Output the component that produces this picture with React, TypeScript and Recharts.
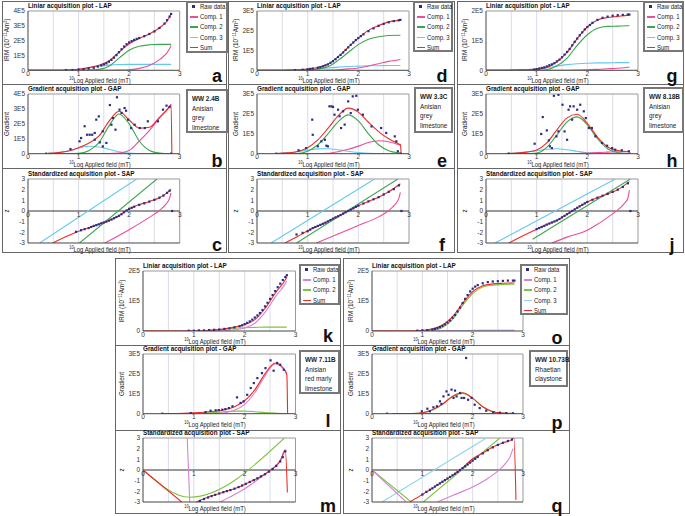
import React from 'react';
import { ComposedChart, Line, Scatter, XAxis, YAxis, ReferenceLine, ReferenceDot } from 'recharts';

type Pair = [number, number | null];
type Pt = { x: number; y: number | null };

const FONT = "'Liberation Sans',Arial,sans-serif";
const NARROW = 0.84;

const RAW_COLOR = '#2b2d84';
const TOP_PAL = { c1: '#ea4f9b', c2: '#3da54e', c3: '#63c9ef', sum: '#ee2b25' };
const BOT_PAL = { c1: '#d584d2', c2: '#80c342', c3: '#8dd3ee', sum: '#ee2b25' };

// ---------- axes / grids ----------
const LAP_X = [0, 0.4, 0.6, 0.8, 1.0, 1.2, 1.4, 1.6, 1.8, 2.0, 2.2, 2.4, 2.6, 2.8, 2.83];
const GAP_X = [0.4, 0.6, 0.8, 1.0, 1.2, 1.4, 1.6, 1.8, 2.0, 2.2, 2.4, 2.6, 2.8, 2.83];
const GAP_X_END = [0.4, 0.6, 0.8, 1.0, 1.2, 1.4, 1.6, 1.8, 2.0, 2.2, 2.4, 2.6, 2.8, 2.83, 2.845];
const X_TICKS = [0, 1, 2, 3];
const X_GRID = [0.5, 1, 1.5, 2, 2.5];
const Z_TICKS = [-3, -2, -1, 0, 1, 2, 3];
const Y4 = [0, 1, 2, 3, 4];
const Y3 = [0, 1, 2, 3];
const Y2 = [0, 1, 2];

const TITLES = ['Liniar acquisition plot - LAP', 'Gradient acquisition plot - GAP', 'Standardized acquisition plot - SAP'];
const Y_LABELS = ['IRM (10\u207B\u00B9\u00B9Am\u00B2)', 'Gradient', 'z'];
const X_LABEL = 'Log Applied field (mT)';
const LEGEND_LABELS: Record<string, string> = { raw: 'Raw data', c1: 'Comp. 1', c2: 'Comp. 2', c3: 'Comp. 3', sum: 'Sum' };

const INFO_A = ['WW 2.4B', 'Anisian', 'grey', 'limestone'];
const INFO_D = ['WW 3.3C', 'Anisian', 'grey', 'limestone'];
const INFO_G = ['WW 8.18B', 'Anisian', 'grey', 'limestone'];
const INFO_K = ['WW 7.11B', 'Anisian', 'red marly', 'limestone'];
const INFO_O = ['WW 10.73B', 'Rhaetian', 'claystone'];

// ---------- sample a (WW 2.4B) ----------
const LAP_A_C1 = [0, 0, 0, 0, 0, 0, 0, 0, 0.01, 0.04, 0.13, 0.33, 0.72, 1.45, 1.68];
const LAP_A_C2 = [0, 0, 0, 0, 0, 0.01, 0.06, 0.28, 0.82, 1.35, 1.62, 1.72, 1.75, 1.75, 1.75];
const LAP_A_C3 = [0, 0, 0, 0.02, 0.07, 0.17, 0.28, 0.35, 0.39, 0.4, 0.4, 0.4, 0.4, 0.4, 0.4];
const LAP_A_SUM = [0, 0, 0, 0.02, 0.07, 0.18, 0.34, 0.63, 1.22, 1.79, 2.15, 2.45, 2.87, 3.6, 3.83];
const LAP_A_RAW: Pair[] = [[0.75, 0.01], [0.88, 0.02], [1.0, 0.05], [1.1, 0.08], [1.2, 0.12], [1.3, 0.17], [1.38, 0.25], [1.45, 0.33], [1.5, 0.4], [1.55, 0.47], [1.6, 0.58], [1.65, 0.7], [1.7, 0.85], [1.75, 1.02], [1.8, 1.22], [1.85, 1.42], [1.9, 1.6], [1.95, 1.76], [2.0, 1.88], [2.05, 1.97], [2.1, 2.05], [2.15, 2.12], [2.2, 2.18], [2.3, 2.3], [2.4, 2.45], [2.5, 2.62], [2.6, 2.85], [2.7, 3.15], [2.75, 3.38], [2.8, 3.62], [2.83, 3.8]];
const GAP_A_C1 = [0, 0, 0, 0, 0, 0, 0.01, 0.05, 0.22, 0.85, 1.55, 2.4, 3.15, 3.3];
const GAP_A_C2 = [0, 0, 0, 0.02, 0.2, 0.72, 1.85, 2.66, 2.0, 0.85, 0.22, 0.04, 0, 0];
const GAP_A_C3 = [0.02, 0.07, 0.18, 0.38, 0.5, 0.45, 0.3, 0.13, 0.04, 0.01, 0, 0, 0, 0];
const GAP_A_SUM = [0.02, 0.07, 0.18, 0.4, 0.7, 1.17, 2.16, 2.84, 2.26, 1.71, 1.77, 2.44, 3.15, 3.3, 0];
const GAP_A_RAW: Pair[] = [[0.36, 0], [0.84, 0.31], [1.02, 0.83], [1.05, 1.05], [1.12, 1.84], [1.17, 1.27], [1.22, 1.27], [1.27, 1.27], [1.32, 1.39], [1.35, 2.28], [1.4, 2.5], [1.32, 0.94], [1.42, 0.76], [1.48, 0.49], [1.48, 1.5], [1.55, 0.72], [1.62, 3.26], [1.65, 1.94], [1.68, 2.39], [1.73, 1.61], [1.76, 3.78], [1.81, 2.95], [1.85, 2.73], [1.91, 3.06], [1.94, 2.88], [1.98, 2.28], [2.04, 1.72], [2.11, 1.94], [2.21, 1.72], [2.31, 1.72], [2.37, 2.17], [2.57, 2.17], [2.67, 2.95], [2.74, 3.22], [2.8, 3.13], [2.83, 0]];
const SAP_A_C1: Pair[] = [[1.52, -3], [2.0, -1.75], [2.4, -0.6], [2.6, 0.05], [2.72, 0.6], [2.8, 1.2], [2.83, 1.7]];
const SAP_A_C2: Pair[] = [[1.02, -3], [2.55, 3]];
const SAP_A_C3: Pair[] = [[0.23, -3], [2.15, 3]];
const SAP_A_SUM: Pair[] = [[0.49, -3], [0.8, -2.3], [1.0, -1.9], [1.3, -1.4], [1.6, -0.9], [1.8, -0.45], [1.9, -0.1], [2.0, 0.22], [2.2, 0.6], [2.4, 0.9], [2.6, 1.25], [2.75, 1.7], [2.83, 2.05]];
const SAP_A_RAW: Pair[] = [[0.95, -1.95], [1.05, -1.8], [1.12, -1.7], [1.2, -1.6], [1.25, -1.5], [1.3, -1.4], [1.35, -1.33], [1.4, -1.25], [1.45, -1.15], [1.5, -1.08], [1.55, -1.0], [1.6, -0.9], [1.65, -0.8], [1.7, -0.68], [1.75, -0.56], [1.8, -0.45], [1.85, -0.3], [1.9, -0.12], [1.95, 0.05], [2.0, 0.2], [2.05, 0.3], [2.1, 0.4], [2.2, 0.57], [2.3, 0.72], [2.4, 0.88], [2.5, 1.05], [2.6, 1.25], [2.68, 1.45], [2.75, 1.7], [2.8, 1.9], [2.85, 0]];

// ---------- sample d (WW 3.3C) ----------
const LAP_D_C1 = [0, 0, 0, 0, 0, 0, 0.01, 0.03, 0.07, 0.12, 0.22, 0.33, 0.45, 0.53, 0.55];
const LAP_D_C2 = [0, 0, 0, 0, 0.01, 0.06, 0.18, 0.5, 0.9, 1.3, 1.57, 1.7, 1.76, 1.77, 1.77];
const LAP_D_C3 = [0, 0, 0.01, 0.02, 0.05, 0.08, 0.12, 0.16, 0.19, 0.21, 0.23, 0.23, 0.24, 0.24, 0.24];
const LAP_D_SUM = [0, 0, 0.01, 0.02, 0.06, 0.14, 0.31, 0.69, 1.16, 1.63, 2.02, 2.26, 2.45, 2.54, 2.56];
const LAP_D_RAW: Pair[] = [[0.75, 0.01], [0.9, 0.03], [1.0, 0.05], [1.05, 0.07], [1.1, 0.09], [1.2, 0.13], [1.25, 0.16], [1.3, 0.2], [1.35, 0.25], [1.4, 0.3], [1.45, 0.38], [1.5, 0.46], [1.55, 0.56], [1.6, 0.67], [1.65, 0.78], [1.7, 0.9], [1.75, 1.03], [1.8, 1.16], [1.85, 1.29], [1.9, 1.41], [1.95, 1.53], [2.0, 1.63], [2.05, 1.73], [2.1, 1.82], [2.2, 1.98], [2.3, 2.12], [2.4, 2.25], [2.5, 2.35], [2.6, 2.43], [2.7, 2.49], [2.8, 2.53], [2.83, 2.55]];
const GAP_D_C1 = [0, 0, 0, 0, 0, 0.02, 0.1, 0.22, 0.38, 0.56, 0.65, 0.6, 0.45, 0.42];
const GAP_D_C2 = [0, 0, 0.01, 0.12, 0.45, 1.0, 1.6, 1.95, 1.65, 1.0, 0.45, 0.15, 0.04, 0.03];
const GAP_D_C3 = [0.01, 0.04, 0.1, 0.18, 0.24, 0.25, 0.2, 0.12, 0.06, 0.02, 0.01, 0, 0, 0];
const GAP_D_SUM = [0.01, 0.04, 0.11, 0.3, 0.69, 1.27, 1.9, 2.29, 2.09, 1.58, 1.11, 0.75, 0.49, 0.45, 0];
const GAP_D_RAW: Pair[] = [[0.38, 0], [0.82, 0.17], [0.97, 0.28], [1.1, 0.95], [1.09, 1.71], [1.2, 0.37], [1.27, 0.62], [1.34, 0.7], [1.37, 0.4], [1.4, 0.37], [1.43, 2.38], [1.47, 2.38], [1.5, 2.35], [1.53, 1.96], [1.6, 2.21], [1.63, 1.88], [1.66, 1.29], [1.7, 2.13], [1.73, 1.46], [1.8, 2.63], [1.85, 2.04], [1.89, 2.88], [1.96, 2.91], [1.99, 2.21], [2.09, 1.96], [2.26, 1.37], [2.45, 1.29], [2.55, 1.04], [2.72, 0.87], [2.75, 0.62], [2.78, 0.12], [2.84, 0]];
const SAP_D_C1: Pair[] = [[1.17, -3], [1.6, -2.15], [2.0, -1.35], [2.4, -0.55], [2.6, 0.05], [2.72, 0.6], [2.8, 1.2], [2.83, 1.75]];
const SAP_D_C2: Pair[] = [[0.78, -3], [2.78, 3]];
const SAP_D_C3: Pair[] = [[0.28, -3], [2.32, 3]];
const SAP_D_SUM: Pair[] = [[0.55, -3], [0.8, -2.4], [1.0, -1.85], [1.2, -1.4], [1.4, -0.95], [1.6, -0.5], [1.8, 0], [2.0, 0.5], [2.2, 0.9], [2.4, 1.3], [2.6, 1.8], [2.83, 2.55]];
const SAP_D_RAW: Pair[] = [[0.78, -2.2], [0.9, -2.05], [1.0, -1.9], [1.05, -1.75], [1.1, -1.6], [1.15, -1.5], [1.2, -1.4], [1.25, -1.3], [1.3, -1.2], [1.35, -1.1], [1.4, -0.98], [1.45, -0.85], [1.5, -0.72], [1.55, -0.6], [1.6, -0.5], [1.65, -0.38], [1.7, -0.25], [1.75, -0.12], [1.8, 0], [1.85, 0.12], [1.9, 0.25], [1.95, 0.38], [2.0, 0.5], [2.1, 0.7], [2.2, 0.9], [2.3, 1.1], [2.4, 1.3], [2.5, 1.55], [2.6, 1.8], [2.7, 2.05], [2.8, 2.4], [2.85, 0]];

// ---------- sample g (WW 8.18B) ----------
const LAP_G_C1 = [0, 0, 0, 0, 0, 0, 0, 0, 0.01, 0.02, 0.03, 0.05, 0.07, 0.1, 0.11];
const LAP_G_C2 = [0, 0, 0, 0, 0, 0.02, 0.15, 0.41, 0.84, 1.2, 1.42, 1.48, 1.49, 1.5, 1.5];
const LAP_G_C3 = [0, 0, 0.01, 0.02, 0.04, 0.08, 0.14, 0.19, 0.22, 0.24, 0.25, 0.25, 0.26, 0.26, 0.26];
const LAP_G_SUM = [0, 0, 0.01, 0.02, 0.04, 0.1, 0.29, 0.6, 1.07, 1.46, 1.7, 1.78, 1.82, 1.86, 1.87];
const LAP_G_RAW: Pair[] = [[0.95, 0.02], [1.0, 0.04], [1.05, 0.06], [1.1, 0.08], [1.15, 0.1], [1.2, 0.13], [1.25, 0.17], [1.3, 0.2], [1.35, 0.24], [1.4, 0.3], [1.45, 0.36], [1.5, 0.44], [1.55, 0.53], [1.6, 0.62], [1.65, 0.72], [1.7, 0.84], [1.75, 0.96], [1.8, 1.07], [1.85, 1.18], [1.9, 1.28], [1.95, 1.38], [2.0, 1.46], [2.05, 1.53], [2.1, 1.6], [2.2, 1.7], [2.3, 1.77], [2.4, 1.81], [2.5, 1.84], [2.6, 1.86], [2.7, 1.87], [2.8, 1.88], [2.83, 1.88]];
const GAP_G_C1 = [0, 0, 0, 0, 0, 0, 0, 0.01, 0.03, 0.06, 0.08, 0.1, 0.1, 0.1];
const GAP_G_C2 = [0, 0, 0, 0.03, 0.32, 0.95, 1.6, 1.85, 1.45, 0.75, 0.25, 0.06, 0.01, 0.01];
const GAP_G_C3 = [0.01, 0.03, 0.08, 0.15, 0.22, 0.25, 0.2, 0.12, 0.05, 0.02, 0.01, 0, 0, 0];
const GAP_G_SUM = [0.01, 0.03, 0.08, 0.18, 0.54, 1.2, 1.8, 1.98, 1.53, 0.83, 0.34, 0.16, 0.11, 0.11, 0];
const GAP_G_RAW: Pair[] = [[0.45, 0], [0.96, 0.5], [1.09, 0.99], [1.2, 1.17], [1.12, 1.84], [1.24, 0.67], [1.26, 0.37], [1.3, 0.28], [1.34, 2.91], [1.39, 0.87], [1.43, 2.96], [1.43, 1.12], [1.51, 2.46], [1.55, 1.12], [1.6, 0.7], [1.63, 2.21], [1.66, 2.38], [1.7, 1.71], [1.73, 2.38], [1.8, 2.21], [1.86, 2.46], [1.93, 2.13], [1.97, 1.79], [2.03, 1.29], [2.09, 1.29], [2.16, 0.87], [2.29, 0.54], [2.39, 0.4], [2.49, 0.28], [2.55, 0.2], [2.68, 0.17], [2.82, 0.12]];
const SAP_G_C1: Pair[] = [[1.3, -3], [1.6, -2.45], [2.0, -1.8], [2.2, -1.25], [2.4, -0.6], [2.6, 0.1], [2.72, 0.65], [2.8, 1.2], [2.83, 1.95]];
const SAP_G_C2: Pair[] = [[0.92, -2.65], [2.85, 3]];
const SAP_G_C3: Pair[] = [[0.18, -3], [2.55, 3]];
const SAP_G_SUM: Pair[] = [[0.45, -3], [0.7, -2.4], [1.0, -1.7], [1.2, -1.25], [1.4, -0.88], [1.6, -0.3], [1.7, 0], [1.8, 0.3], [2.0, 0.85], [2.2, 1.25], [2.4, 1.6], [2.6, 2.0], [2.83, 2.75]];
const SAP_G_RAW: Pair[] = [[1.0, -1.7], [1.05, -1.6], [1.1, -1.5], [1.15, -1.4], [1.2, -1.28], [1.25, -1.18], [1.3, -1.08], [1.35, -0.98], [1.4, -0.88], [1.45, -0.75], [1.5, -0.6], [1.55, -0.45], [1.6, -0.3], [1.65, -0.15], [1.7, 0], [1.75, 0.15], [1.8, 0.3], [1.85, 0.44], [1.9, 0.58], [1.95, 0.72], [2.0, 0.85], [2.1, 1.05], [2.2, 1.25], [2.3, 1.43], [2.4, 1.6], [2.5, 1.8], [2.6, 2.0], [2.7, 2.25], [2.8, 2.6], [2.85, 0]];

// ---------- sample k (WW 7.11B) ----------
const LAP_K_C1 = [0, 0, 0, 0, 0, 0, 0, 0.01, 0.04, 0.1, 0.26, 0.62, 1.13, 1.58, 1.67];
const LAP_K_C2 = [0, 0, 0, 0, 0, 0.01, 0.03, 0.06, 0.09, 0.11, 0.12, 0.13, 0.13, 0.13, 0.13];
const LAP_K_SUM = [0, 0, 0, 0, 0, 0.01, 0.03, 0.07, 0.13, 0.21, 0.38, 0.75, 1.26, 1.71, 1.8];
const LAP_K_RAW: Pair[] = [[0.9, 0.01], [1.0, 0.01], [1.1, 0.02], [1.2, 0.02], [1.3, 0.03], [1.4, 0.04], [1.5, 0.05], [1.6, 0.07], [1.7, 0.09], [1.8, 0.12], [1.9, 0.16], [1.95, 0.19], [2.0, 0.23], [2.05, 0.27], [2.1, 0.32], [2.15, 0.38], [2.2, 0.45], [2.25, 0.52], [2.3, 0.6], [2.35, 0.7], [2.4, 0.82], [2.45, 0.94], [2.5, 1.07], [2.55, 1.2], [2.6, 1.33], [2.65, 1.46], [2.7, 1.58], [2.75, 1.7], [2.8, 1.8], [2.83, 1.86]];
const GAP_K_C1 = [0, 0, 0, 0, 0, 0.01, 0.05, 0.17, 0.47, 1.05, 1.9, 2.5, 2.12, 1.93];
const GAP_K_C2 = [0, 0, 0, 0.01, 0.03, 0.06, 0.1, 0.13, 0.13, 0.1, 0.06, 0.03, 0.01, 0.01];
const GAP_K_SUM = [0, 0.01, 0.02, 0.04, 0.07, 0.12, 0.2, 0.35, 0.65, 1.2, 2.0, 2.55, 2.15, 1.95, 0];
const GAP_K_RAW: Pair[] = [[0.38, 0], [0.94, 0.03], [1.23, 0.08], [1.33, 0.15], [1.43, 0.17], [1.49, 0.18], [1.56, 0.2], [1.62, 0.23], [1.69, 0.28], [1.76, 0.37], [1.85, 0.82], [1.92, 0.54], [1.98, 0.62], [2.05, 0.95], [2.12, 1.29], [2.18, 1.54], [2.25, 1.79], [2.34, 2.04], [2.41, 2.29], [2.51, 2.68], [2.57, 2.16], [2.64, 2.55], [2.7, 2.46], [2.77, 2.21]];
const SAP_K_C1: Pair[] = [[0.87, 3], [0.92, -3], [0.95, null], [1.52, -3], [1.8, -2.3], [2.0, -1.75], [2.2, -1.1], [2.4, -0.35], [2.56, 0.2], [2.7, 0.9], [2.8, 1.85]];
const SAP_K_C2: Pair[] = [[0, 0], [0.92, -2.55], [2.78, 3]];
const SAP_K_SUM: Pair[] = [[0, 0], [0.76, -3], [0.9, null], [1.05, -3], [1.2, -2.7], [1.4, -2.35], [1.6, -2.05], [1.8, -1.75], [2.0, -1.35], [2.2, -0.9], [2.4, -0.4], [2.5, -0.05], [2.6, 0.3], [2.7, 0.85], [2.8, 1.9], [2.84, -2.1]];
const SAP_K_RAW: Pair[] = [[1.12, -2.9], [1.2, -2.72], [1.28, -2.58], [1.35, -2.45], [1.42, -2.33], [1.5, -2.2], [1.58, -2.08], [1.65, -1.98], [1.72, -1.88], [1.8, -1.75], [1.88, -1.6], [1.95, -1.45], [2.02, -1.3], [2.1, -1.12], [2.18, -0.95], [2.25, -0.78], [2.32, -0.6], [2.4, -0.4], [2.48, -0.15], [2.55, 0.1], [2.62, 0.38], [2.7, 0.8], [2.75, 1.2], [2.8, 1.75]];

// ---------- sample o (WW 10.73B) ----------
const LAP_O_C1 = [0, 0, 0, 0, 0, 0, 0, 0, 0, 0, 0, 0, 0, 0, 0];
const LAP_O_C2 = [0, 0, 0, 0, 0, 0.02, 0.12, 0.38, 0.85, 1.25, 1.47, 1.53, 1.55, 1.56, 1.56];
const LAP_O_C3 = [0, 0, 0, 0, 0, 0, 0, 0.01, 0.01, 0.02, 0.03, 0.03, 0.03, 0.03, 0.03];
const LAP_O_SUM = [0, 0, 0, 0, 0.02, 0.07, 0.2, 0.48, 0.92, 1.31, 1.51, 1.57, 1.59, 1.6, 1.6];
const LAP_O_RAW: Pair[] = [[0.9, 0.01], [1.0, 0.02], [1.1, 0.03], [1.2, 0.05], [1.25, 0.07], [1.3, 0.1], [1.35, 0.13], [1.4, 0.17], [1.45, 0.22], [1.5, 0.28], [1.55, 0.35], [1.6, 0.44], [1.65, 0.53], [1.7, 0.65], [1.75, 0.78], [1.8, 0.93], [1.85, 1.07], [1.9, 1.2], [1.95, 1.32], [2.0, 1.41], [2.05, 1.48], [2.1, 1.53], [2.2, 1.59], [2.3, 1.63], [2.4, 1.65], [2.5, 1.66], [2.6, 1.67], [2.7, 1.68], [2.8, 1.68], [2.83, 1.68]];
const GAP_O_C1 = [0, 0, 0, 0, 0, 0, 0, 0, 0, 0, 0, 0, 0, 0];
const GAP_O_C2 = [0, 0, 0.01, 0.05, 0.19, 0.46, 0.85, 1.02, 0.77, 0.35, 0.1, 0.03, 0.01, 0.01];
const GAP_O_C3 = [0, 0, 0, 0, 0, 0, 0, 0.01, 0.01, 0.01, 0.01, 0, 0, 0];
const GAP_O_SUM = [0, 0, 0.01, 0.05, 0.2, 0.48, 0.88, 1.05, 0.78, 0.35, 0.1, 0.03, 0.01, 0.01, 0];
const GAP_O_RAW: Pair[] = [[0.3, 0], [0.99, 0.12], [1.1, 0.25], [1.15, 0.12], [1.22, 0.32], [1.29, 0.37], [1.35, 0.62], [1.38, 0.49], [1.42, 0.87], [1.48, 1.12], [1.52, 0.95], [1.58, 1.21], [1.62, 0.79], [1.65, 1.16], [1.68, 0.87], [1.75, 1.04], [1.78, 0.79], [1.83, 0.79], [1.87, 2.8], [1.91, 0.7], [1.98, 0.79], [2.04, 0.45], [2.14, 0.28], [2.27, 0.15], [2.41, 0.08], [2.54, 0.05], [2.67, 0.03], [2.8, 0.02]];
const SAP_O_C1: Pair[] = [[0, 0], [0.68, -3], [1.0, null], [1.3, -3], [1.6, -2.4], [2.0, -1.6], [2.3, -0.8], [2.5, -0.1], [2.65, 0.6], [2.75, 1.3], [2.8, 2.0]];
const SAP_O_C2: Pair[] = [[0, 0], [0.78, -3], [0.9, null], [1.02, -3], [2.54, 3]];
const SAP_O_C3: Pair[] = [[0.2, -3], [2.27, 3]];
const SAP_O_SUM: Pair[] = [[0.75, -3], [1.0, -2.3], [1.12, -1.95], [1.4, -1.1], [1.6, -0.5], [1.75, 0], [2.0, 1.05], [2.2, 1.6], [2.4, 2.15], [2.6, 2.55], [2.78, 2.85], [2.82, 3], [2.86, -2.8]];
const SAP_O_RAW: Pair[] = [[1.0, -2.3], [1.08, -2.05], [1.15, -1.85], [1.2, -1.72], [1.25, -1.55], [1.3, -1.4], [1.35, -1.25], [1.4, -1.1], [1.45, -0.95], [1.5, -0.8], [1.55, -0.65], [1.6, -0.5], [1.65, -0.35], [1.7, -0.18], [1.75, 0], [1.8, 0.18], [1.85, 0.35], [1.9, 0.52], [1.95, 0.7], [2.0, 0.88], [2.05, 1.05], [2.1, 1.22], [2.2, 1.55], [2.3, 1.85], [2.4, 2.12], [2.5, 2.35], [2.6, 2.55], [2.7, 2.72], [2.78, 2.85]];

// ---------- helpers ----------
const zip = (xs: number[], ys: number[]): Pt[] => ys.map((y, i) => ({ x: xs[i], y }));
const pts = (a: Pair[]): Pt[] => a.map(([x, y]) => ({ x, y }));

type Series = { data: Pt[]; color: string };
type PlotCfg = { kind: 'lap' | 'gap' | 'sap'; yTicks: number[]; lines: Series[]; raw: Pt[] };
type Box = [number, number, number, number];
type SampleCfg = {
  id: string; x: [number, number]; rows: [number, number][]; frame: Box; seps: number[];
  letters: string[]; letterX: number; letterY: number[]; legend: Box; legendItems: string[];
  info: Box; infoLines: string[]; pal: typeof TOP_PAL; plots: PlotCfg[];
};

const TOP_ROWS: [number, number][] = [[10.7, 70], [94.3, 154], [179, 243]];
const BOT_ROWS: [number, number][] = [[271, 331], [354.3, 414], [438.3, 502.3]];

function makePlots(p: typeof TOP_PAL, lapMax: number[], gapMax: number[],
  lap: { c1: number[]; c2: number[]; c3?: number[]; sum: number[]; raw: Pair[] },
  gap: { c1: number[]; c2: number[]; c3?: number[]; sum: number[]; raw: Pair[] },
  sap: { c1: Pair[]; c2: Pair[]; c3?: Pair[]; sum: Pair[]; raw: Pair[] }): PlotCfg[] {
  const L: Series[] = [];
  if (lap.c3) L.push({ data: zip(LAP_X, lap.c3), color: p.c3 });
  L.push({ data: zip(LAP_X, lap.c2), color: p.c2 }, { data: zip(LAP_X, lap.c1), color: p.c1 }, { data: zip(LAP_X, lap.sum), color: p.sum });
  const G: Series[] = [];
  if (gap.c3) G.push({ data: zip(GAP_X, gap.c3), color: p.c3 });
  G.push({ data: zip(GAP_X, gap.c2), color: p.c2 }, { data: zip(GAP_X, gap.c1), color: p.c1 }, { data: zip(GAP_X_END, gap.sum), color: p.sum });
  const S: Series[] = [];
  if (sap.c3) S.push({ data: pts(sap.c3), color: p.c3 });
  S.push({ data: pts(sap.c2), color: p.c2 }, { data: pts(sap.c1), color: p.c1 }, { data: pts(sap.sum), color: p.sum });
  return [
    { kind: 'lap', yTicks: lapMax, lines: L, raw: pts(lap.raw) },
    { kind: 'gap', yTicks: gapMax, lines: G, raw: pts(gap.raw) },
    { kind: 'sap', yTicks: Z_TICKS, lines: S, raw: pts(sap.raw) },
  ];
}

const ITEMS3 = ['raw', 'c1', 'c2', 'c3', 'sum'];
const ITEMS2 = ['raw', 'c1', 'c2', 'sum'];

const SAMPLES: SampleCfg[] = [
  {
    id: 'a', x: [28.3, 180], rows: TOP_ROWS, frame: [2, 1, 227, 253], seps: [84, 168],
    letters: ['a', 'b', 'c'], letterX: 217, letterY: [78, 163, 247], legend: [186, 1, 228, 53], legendItems: ITEMS3,
    info: [186, 89, 228, 133], infoLines: INFO_A, pal: TOP_PAL,
    plots: makePlots(TOP_PAL, Y4, Y4,
      { c1: LAP_A_C1, c2: LAP_A_C2, c3: LAP_A_C3, sum: LAP_A_SUM, raw: LAP_A_RAW },
      { c1: GAP_A_C1, c2: GAP_A_C2, c3: GAP_A_C3, sum: GAP_A_SUM, raw: GAP_A_RAW },
      { c1: SAP_A_C1, c2: SAP_A_C2, c3: SAP_A_C3, sum: SAP_A_SUM, raw: SAP_A_RAW }),
  },
  {
    id: 'd', x: [257.3, 409.3], rows: TOP_ROWS, frame: [228, 1, 455, 253], seps: [84, 168],
    letters: ['d', 'e', 'f'], letterX: 442, letterY: [78, 163, 247], legend: [413, 1, 453, 52], legendItems: ITEMS3,
    info: [414, 87, 453, 133], infoLines: INFO_D, pal: TOP_PAL,
    plots: makePlots(TOP_PAL, Y3, Y3,
      { c1: LAP_D_C1, c2: LAP_D_C2, c3: LAP_D_C3, sum: LAP_D_SUM, raw: LAP_D_RAW },
      { c1: GAP_D_C1, c2: GAP_D_C2, c3: GAP_D_C3, sum: GAP_D_SUM, raw: GAP_D_RAW },
      { c1: SAP_D_C1, c2: SAP_D_C2, c3: SAP_D_C3, sum: SAP_D_SUM, raw: SAP_D_RAW }),
  },
  {
    id: 'g', x: [485.7, 637.7], rows: TOP_ROWS, frame: [457, 1, 684, 253], seps: [84, 168],
    letters: ['g', 'h', 'j'], letterX: 672, letterY: [78, 163, 247], legend: [643, 1, 684, 52], legendItems: ITEMS3,
    info: [643, 87, 684, 133], infoLines: INFO_G, pal: TOP_PAL,
    plots: makePlots(TOP_PAL, Y2, Y3,
      { c1: LAP_G_C1, c2: LAP_G_C2, c3: LAP_G_C3, sum: LAP_G_SUM, raw: LAP_G_RAW },
      { c1: GAP_G_C1, c2: GAP_G_C2, c3: GAP_G_C3, sum: GAP_G_SUM, raw: GAP_G_RAW },
      { c1: SAP_G_C1, c2: SAP_G_C2, c3: SAP_G_C3, sum: SAP_G_SUM, raw: SAP_G_RAW }),
  },
  {
    id: 'k', x: [142.5, 295], rows: BOT_ROWS, frame: [115, 258, 341, 514], seps: [345, 430],
    letters: ['k', 'l', 'm'], letterX: 328, letterY: [338, 423, 508], legend: [299, 264, 340, 305], legendItems: ITEMS2,
    info: [299, 350, 340, 394], infoLines: INFO_K, pal: BOT_PAL,
    plots: makePlots(BOT_PAL, Y2, Y3,
      { c1: LAP_K_C1, c2: LAP_K_C2, sum: LAP_K_SUM, raw: LAP_K_RAW },
      { c1: GAP_K_C1, c2: GAP_K_C2, sum: GAP_K_SUM, raw: GAP_K_RAW },
      { c1: SAP_K_C1, c2: SAP_K_C2, sum: SAP_K_SUM, raw: SAP_K_RAW }),
  },
  {
    id: 'o', x: [372, 523], rows: BOT_ROWS, frame: [343, 258, 570, 514], seps: [345, 430],
    letters: ['o', 'p', 'q'], letterX: 557, letterY: [340, 425, 508], legend: [520, 264, 568, 315], legendItems: ITEMS3,
    info: [529, 350, 568, 387], infoLines: INFO_O, pal: BOT_PAL,
    plots: makePlots(BOT_PAL, Y2, Y3,
      { c1: LAP_O_C1, c2: LAP_O_C2, c3: LAP_O_C3, sum: LAP_O_SUM, raw: LAP_O_RAW },
      { c1: GAP_O_C1, c2: GAP_O_C2, c3: GAP_O_C3, sum: GAP_O_SUM, raw: GAP_O_RAW },
      { c1: SAP_O_C1, c2: SAP_O_C2, c3: SAP_O_C3, sum: SAP_O_SUM, raw: SAP_O_RAW }),
  },
];

// ---------- components ----------
const Square = (p: any) => (p.cx == null || p.cy == null ? <g /> :
  <rect x={p.cx - 1.1} y={p.cy - 1.1} width={2.2} height={2.2} fill={RAW_COLOR} />);
const fmtE5 = (v: number) => (v === 0 ? '0' : `${v}E5`);
const TICK_STYLE = { fontSize: 6.5, fill: '#333', fontFamily: FONT };

function Plot({ cfg, box }: { cfg: PlotCfg; box: Box }) {
  const [L, T, R, B] = box;
  const sap = cfg.kind === 'sap';
  const ML = 30, MR = 3, MT = 5, MB = sap ? 5 : 9;
  const yMin = sap ? -3 : 0;
  const yMax = cfg.yTicks[cfg.yTicks.length - 1];
  return (
    <div style={{ position: 'absolute', left: L - ML, top: T - MT }}>
      <ComposedChart width={R - L + ML + MR} height={B - T + MT + MB} margin={{ top: MT, right: MR, bottom: 0, left: 0 }}>
        <XAxis type="number" dataKey="x" domain={[0, 3]} ticks={X_TICKS} allowDataOverflow height={MB}
          tick={sap ? false : TICK_STYLE} tickLine={false} tickSize={1} tickMargin={0} interval={0}
          axisLine={{ stroke: '#444', strokeWidth: 1 }} />
        <YAxis type="number" domain={[yMin, yMax]} ticks={cfg.yTicks} allowDataOverflow width={ML}
          tick={TICK_STYLE} tickLine={false} tickSize={2} tickMargin={1} interval={0}
          tickFormatter={sap ? undefined : fmtE5} axisLine={{ stroke: '#444', strokeWidth: 1 }} />
        {X_GRID.map((g) => <ReferenceLine key={'g' + g} x={g} stroke="#d3d3e3" strokeWidth={0.8} />)}
        <ReferenceLine x={3} stroke="#9a9a9a" />
        <ReferenceLine y={yMax} stroke="#9a9a9a" />
        {sap && <ReferenceLine y={0} stroke="#333" />}
        {sap && X_TICKS.map((t) => (
          <ReferenceDot key={'t' + t} x={t} y={0} r={0} fill="none" stroke="none"
            label={{ value: String(t), position: 'bottom', offset: 1, fontSize: 6.5, fill: '#333', fontFamily: FONT }} />
        ))}
        {cfg.lines.map((s, i) => (
          <Line key={i} data={s.data} dataKey="y" type="monotone" stroke={s.color} strokeWidth={1.1}
            dot={false} activeDot={false} isAnimationActive={false} />
        ))}
        <Scatter data={cfg.raw} dataKey="y" shape={Square} isAnimationActive={false} />
      </ComposedChart>
    </div>
  );
}

const abs = (left: number, top: number, extra: React.CSSProperties = {}): React.CSSProperties =>
  ({ position: 'absolute', left, top, lineHeight: 1, whiteSpace: 'nowrap', fontFamily: FONT, ...extra });

function Sample({ s }: { s: SampleCfg }) {
  const [xL, xR] = s.x;
  const [fl, ft, fr, fb] = s.frame;
  const [ll, lt, lr, lb] = s.legend;
  const [il, it, ir, ib] = s.info;
  const colorOf: Record<string, string> = { c1: s.pal.c1, c2: s.pal.c2, c3: s.pal.c3, sum: s.pal.sum };
  return (
    <>
      <div style={{ position: 'absolute', left: fl, top: ft, width: fr - fl, height: fb - ft, border: '1.5px solid #666', boxSizing: 'border-box' }} />
      {s.seps.map((y) => <div key={y} style={{ position: 'absolute', left: fl, top: y, width: fr - fl, height: 0, borderTop: '1.5px solid #666' }} />)}
      {s.plots.map((p, i) => {
        const [t, b] = s.rows[i];
        const cx = (xL + xR) / 2 - 4;
        return (
          <React.Fragment key={i}>
            <Plot cfg={p} box={[xL, t, xR, b]} />
            <div style={abs(xL, t - 9, { fontSize: 7.5, fontWeight: 'bold', color: '#111', transform: `scaleX(${NARROW})`, transformOrigin: 'left center' })}>{TITLES[i]}</div>
            <div style={abs(xL - 21, (t + b) / 2, { fontSize: 7.5, color: '#222', transform: `translate(-50%,-50%) rotate(-90deg) scaleX(${NARROW})` })}>{Y_LABELS[i]}</div>
            <div style={abs(cx, b + (p.kind === 'sap' ? 5.5 : 10), { fontSize: 7, color: '#222', transform: `translate(-50%,-50%) scaleX(${NARROW})` })}>
              <span style={{ fontSize: 4.5, verticalAlign: '3px' }}>10</span>{X_LABEL}
            </div>
            <div style={abs(s.letterX, s.letterY[i], { fontSize: 18, fontWeight: 'bold', color: '#111', transform: 'translate(-50%,-60%)' })}>{s.letters[i]}</div>
          </React.Fragment>
        );
      })}
      <div style={{ position: 'absolute', left: ll, top: lt, width: lr - ll, height: lb - lt, border: '2px solid #777', boxSizing: 'border-box', background: '#fff' }}>
        {s.legendItems.map((k, j) => (
          <div key={k} style={abs(0, -1.5 + j * 10.3, { height: 10, fontSize: 7.5, color: '#222', display: 'flex', alignItems: 'center' })}>
            <span style={{ width: 11, display: 'inline-flex', justifyContent: 'center' }}>
              {k === 'raw'
                ? <span style={{ width: 2.5, height: 2.5, background: RAW_COLOR, display: 'inline-block' }} />
                : <span style={{ width: 8, height: 1.5, background: colorOf[k], display: 'inline-block' }} />}
            </span>
            <span style={{ marginLeft: 1, display: 'inline-block', transform: 'scaleX(0.8)', transformOrigin: 'left center' }}>{LEGEND_LABELS[k]}</span>
          </div>
        ))}
      </div>
      <div style={{ position: 'absolute', left: il, top: it, width: ir - il, height: ib - it, border: '2px solid #777', boxSizing: 'border-box', background: '#fff' }}>
        {s.infoLines.map((t, j) => (
          <div key={j} style={abs(3.5, 4 + j * 9.5, { fontSize: 8, color: '#222', fontWeight: j === 0 ? 'bold' : 'normal', transform: `scaleX(${NARROW - 0.04})`, transformOrigin: 'left center' })}>{t}</div>
        ))}
      </div>
    </>
  );
}

export default function App() {
  return (
    <div style={{ position: 'absolute', left: 0, top: 0, width: 685, height: 516, background: '#fff', overflow: 'hidden' }}>
      {SAMPLES.map((s) => <Sample key={s.id} s={s} />)}
    </div>
  );
}
